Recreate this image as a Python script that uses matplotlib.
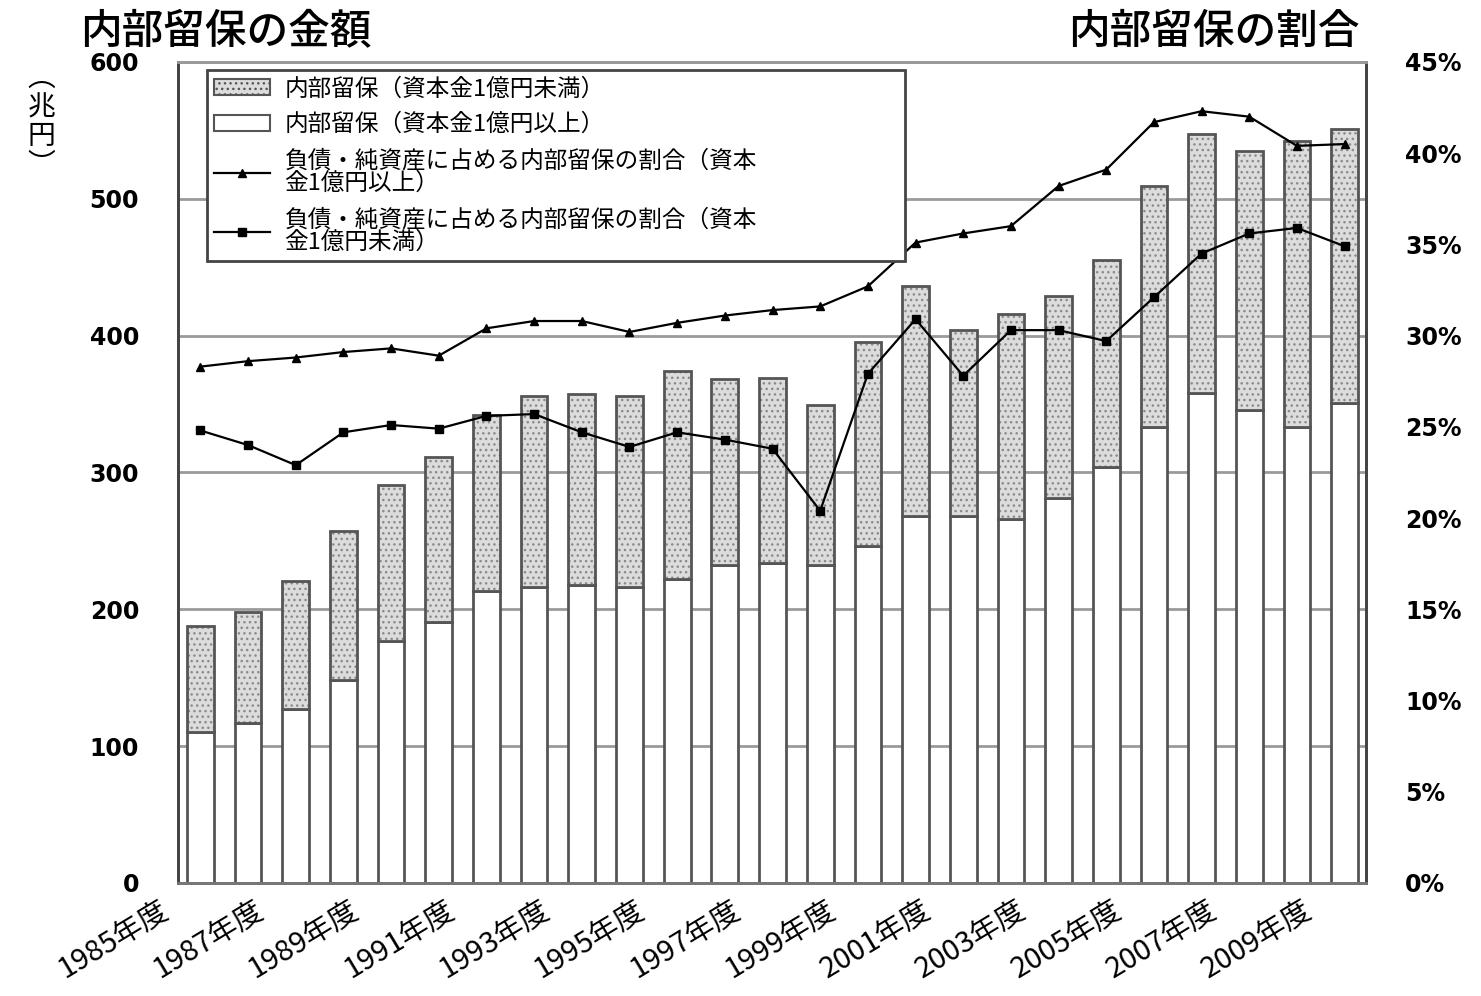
import matplotlib
matplotlib.use('Agg')
import matplotlib.pyplot as plt
import matplotlib.transforms as mtransforms
from matplotlib.patches import Patch
from matplotlib.lines import Line2D

plt.rcParams['font.family'] = ['Noto Sans CJK JP', 'DejaVu Sans']

# 年度
years = list(range(1985, 2010))
# 内部留保（兆円）：資本金1億円以上
large_cap = [110, 117, 127, 148, 177, 191, 213, 216, 218, 216, 222, 232, 234, 232, 246,
             268, 268, 266, 281, 304, 333, 358, 346, 333, 351]
# 内部留保（兆円）：資本金1億円未満
small_cap = [78, 81, 94, 109, 114, 120, 129, 140, 139, 140, 152, 136, 135, 117, 149,
             168, 136, 150, 148, 151, 176, 189, 189, 209, 200]
# 負債・純資産に占める内部留保の割合（%）
ratio_large = [28.3, 28.6, 28.8, 29.1, 29.3, 28.9, 30.4, 30.8, 30.8, 30.2, 30.7, 31.1, 31.4,
               31.6, 32.7, 35.1, 35.6, 36.0, 38.2, 39.1, 41.7, 42.3, 42.0, 40.4, 40.5]
ratio_small = [24.8, 24.0, 22.9, 24.7, 25.1, 24.9, 25.6, 25.7, 24.7, 23.9, 24.7, 24.3, 23.8,
               20.4, 27.9, 30.9, 27.8, 30.3, 30.3, 29.7, 32.1, 34.5, 35.6, 35.9, 34.9]

tick_years = years[::2]
x = list(range(len(years)))

fig = plt.figure(figsize=(14.81, 9.96), dpi=100)
ax = fig.add_axes([0.1202, 0.1135, 0.8022, 0.8243])
ax2 = ax.twinx()

width = 0.56
# lower part: capital >= 100M yen
ax.bar(x, large_cap, width=width, color='white', edgecolor='#555555', linewidth=2, zorder=2)
# upper part: capital < 100M yen, dotted fill
ax.bar(x, small_cap, width=width, bottom=large_cap, color='#dcdcdc', edgecolor='#8a8a8a',
       linewidth=0, hatch='...', zorder=2)
ax.bar(x, small_cap, width=width, bottom=large_cap, fill=False, edgecolor='#555555',
       linewidth=2, zorder=3)

ax.set_xlim(-0.47, len(years) - 0.55)
ax.set_ylim(0, 600)
ax.set_yticks(range(0, 601, 100))
ax.set_axisbelow(True)
ax.yaxis.grid(True, color='#9a9a9a', linewidth=2)

num_font = dict(family='DejaVu Sans', weight='bold', size=17)

ax.set_xticks(x[::2])
ax.set_xticklabels([f'{y}年度' for y in tick_years], rotation=31, ha='right',
                   rotation_mode='anchor', fontsize=21)
ax.tick_params(axis='x', length=0, pad=9)
# labels sit a little left of their bars
shift = mtransforms.ScaledTranslation(-42 / 100, 0, fig.dpi_scale_trans)
for lbl in ax.get_xticklabels():
    lbl.set_transform(lbl.get_transform() + shift)

ax.tick_params(axis='y', length=0, pad=28)
ax.set_yticklabels([str(v) for v in range(0, 601, 100)], fontdict=num_font)

ax2.plot(x, [v / 100 for v in ratio_large], color='black', linewidth=1.6, marker='^',
         markersize=6, zorder=4)
ax2.plot(x, [v / 100 for v in ratio_small], color='black', linewidth=1.6, marker='s',
         markersize=6, zorder=4)
ax2.set_ylim(0, 0.45)
ax2.set_yticks([i * 0.05 for i in range(10)])
ax2.set_yticklabels([f'{i * 5}%' for i in range(10)], fontdict=num_font)
ax2.tick_params(axis='y', length=0, pad=28)

for a in (ax, ax2):
    a.spines['left'].set_color('#444444')
    a.spines['right'].set_color('#444444')
    a.spines['top'].set_color('#9a9a9a')
    a.spines['bottom'].set_color('#777777')
    for s in a.spines.values():
        s.set_linewidth(2)

handles = [
    Patch(facecolor='#dcdcdc', edgecolor='#555555', hatch='...', linewidth=1.5),
    Patch(facecolor='white', edgecolor='#555555', linewidth=1.5),
    Line2D([], [], color='black', linewidth=1.6, marker='^', markersize=6),
    Line2D([], [], color='black', linewidth=1.6, marker='s', markersize=6),
]
labels = [
    '内部留保（資本金1億円未満）',
    '内部留保（資本金1億円以上）',
    '負債・純資産に占める内部留保の割合（資本\n金1億円以上）',
    '負債・純資産に占める内部留保の割合（資本\n金1億円未満）',
]
leg = ax2.legend(handles, labels, loc='upper left', bbox_to_anchor=(0.024, 0.0, 0.588, 0.99),
                 mode='expand', borderaxespad=0, prop=dict(size=17), frameon=True,
                 fancybox=False, framealpha=1, edgecolor='#444444', labelspacing=0.55,
                 handlelength=2.4, handletextpad=0.6, borderpad=0.3)
leg.get_frame().set_linewidth(2)
for t in leg.get_texts():
    t.set_linespacing(1.0)
leg.set_zorder(10)

fig.text(0.054, 0.968, '内部留保の金額', fontsize=30, fontweight='medium', ha='left', va='center')
fig.text(0.918, 0.968, '内部留保の割合', fontsize=30, fontweight='medium', ha='right', va='center')
fig.text(0.028, 0.878, '︵\n兆\n円\n︶', fontsize=20, ha='center', va='center', linespacing=0.95)

fig.savefig('out.png', dpi=100, facecolor='white')
plt.close(fig)
